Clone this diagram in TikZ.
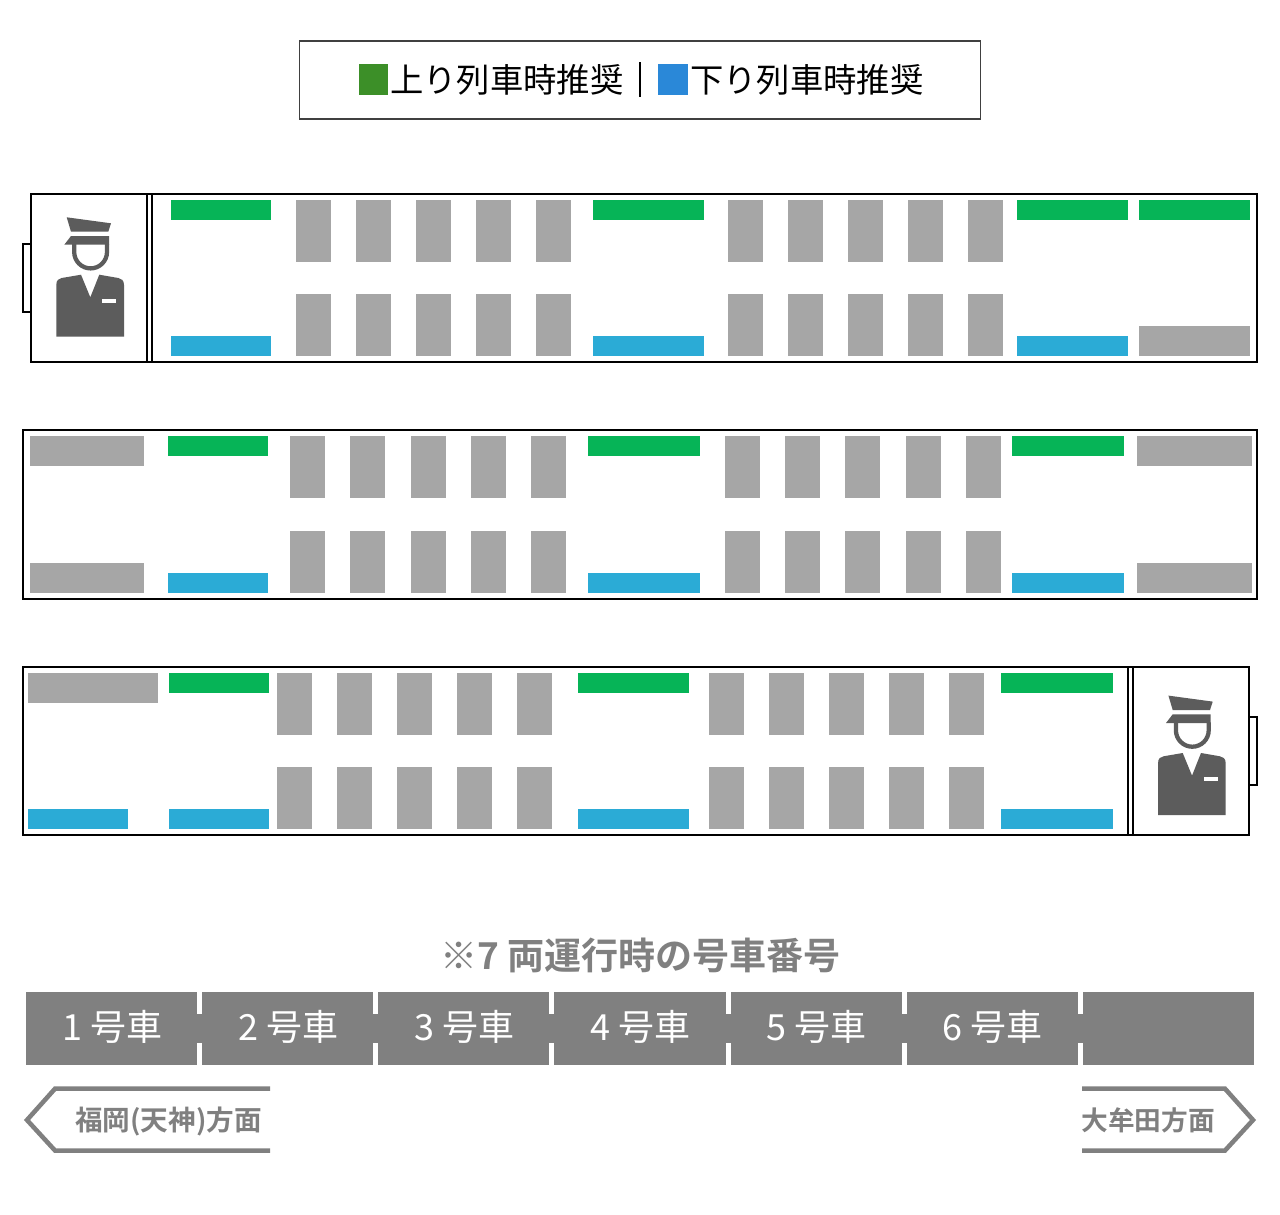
\documentclass[tikz,border=0pt]{standalone}
\usepackage{fontspec}
\setmainfont{Noto Sans CJK JP}
\newfontfamily\jpbold{Noto Sans CJK JP Bold}
\newcommand{\fs}[1]{\fontsize{#1}{#1}\selectfont}
\definecolor{seatgreen}{HTML}{06B457}
\definecolor{seatblue}{HTML}{2BABD6}
\definecolor{seatgray}{HTML}{A6A6A6}
\definecolor{bandgray}{HTML}{808080}
\definecolor{mangray}{HTML}{5C5C5C}
\definecolor{keygreen}{HTML}{3C8F28}
\definecolor{keyblue}{HTML}{2A88D8}
\newcommand{\grn}[3]{\fill[seatgreen] (#1,#3) rectangle (#2,#3+20);}
\newcommand{\blu}[3]{\fill[seatblue] (#1,#3) rectangle (#2,#3+20);}
\newcommand{\gry}[4]{\fill[seatgray] (#1,#3) rectangle (#2,#4);}
\newcommand{\seatpair}[3]{\foreach \sx in {#1} {\fill[seatgray] (\sx,#2) rectangle (\sx+35,#2+62); \fill[seatgray] (\sx,#3) rectangle (\sx+35,#3+62);}}
\newcommand{\conductor}{%
  \fill[mangray] (66.7,217.3) -- (111,223.3) -- (108.3,231.7) -- (71,231.7) -- cycle;
  \fill[mangray] (64.3,244.7) -- (71,236) -- (109,236) -- (109,244.7) -- cycle;
  \draw[mangray,line width=3.2pt] (74.2,244) -- (74.2,252) .. controls (74.2,261) and (81.5,268.4) .. (90.6,268.4) .. controls (99.7,268.4) and (107,261) .. (107,252) -- (107,244);
  \fill[mangray] (56.3,336.7) -- (124,336.7) -- (124,285) .. controls (124,280) and (121,278.5) .. (118.3,278) -- (99.3,274.7) -- (90.3,297.3) -- (81,274.7) -- (61.7,278) .. controls (59,278.5) and (56.3,280) .. (56.3,285) -- cycle;
  \fill[white] (102,299) rectangle (116.3,303);
}
\tikzset{frame/.style={draw=black,line width=1.5pt},
  legendtxt/.style={text=black,inner sep=0pt,font=\fs{25}},
  band/.style={text=white,inner sep=0pt,font=\fs{27}},
  direction/.style={draw=bandgray,line width=3.4pt,miter limit=10},
  dirtxt/.style={text=bandgray,inner sep=0pt}}
\begin{document}
\begin{tikzpicture}[x=0.75pt,y=-0.75pt]
\useasboundingbox (0,0) rectangle (1280,1214);
\fill[white] (0,0) rectangle (1280,1214);
% legend
\draw[black!75,line width=0.9pt] (299.5,41) rectangle (980.5,119);
\fill[keygreen] (359,64) rectangle (388,95);
\fill[keyblue] (658,64) rectangle (688,95);
\node[legendtxt,anchor=west] (up) at (390,80) {上り列車時推奨};
\node[legendtxt,anchor=west] (down) at (690,80) {下り列車時推奨};
\draw[black,line width=1pt] (640,62) -- (640,97);
% car 1
\draw[frame] (31,244) -- (23,244) -- (23,312) -- (31,312);
\draw[frame] (31,194) rectangle (1257,362);
\draw[frame] (147,194) -- (147,362) (152,194) -- (152,362);
\begin{scope}\conductor\end{scope}
\grn{171}{271}{200}\blu{171}{271}{336}
\seatpair{296,356,416,476,536}{200}{294}
\grn{593}{704}{200}\blu{593}{704}{336}
\seatpair{728,788,848,908,968}{200}{294}
\grn{1017}{1128}{200}\blu{1017}{1128}{336}
\grn{1139}{1250}{200}\gry{1139}{1250}{326}{356}
% car 2
\draw[frame] (23,430) rectangle (1257,599);
\gry{30}{144}{436}{466}\gry{30}{144}{563}{593}
\grn{168}{268}{436}\blu{168}{268}{573}
\seatpair{290,350,411,471,531}{436}{531}
\grn{588}{700}{436}\blu{588}{700}{573}
\seatpair{725,785,845,906,966}{436}{531}
\grn{1012}{1124}{436}\blu{1012}{1124}{573}
\gry{1137}{1252}{436}{466}\gry{1137}{1252}{563}{593}
% car 3
\draw[frame] (1249,717) -- (1257,717) -- (1257,785) -- (1249,785);
\draw[frame] (23,667) rectangle (1249,835);
\draw[frame] (1128,667) -- (1128,835) (1133,667) -- (1133,835);
\begin{scope}[shift={(1101.7,478.3)}]\conductor\end{scope}
\gry{28}{158}{673}{703}\blu{28}{128}{809}
\grn{169}{269}{673}\blu{169}{269}{809}
\seatpair{277,337,397,457,517}{673}{767}
\grn{578}{689}{673}\blu{578}{689}{809}
\seatpair{709,769,829,889,949}{673}{767}
\grn{1001}{1113}{673}\blu{1001}{1113}{809}
% title
\node[text=bandgray,inner sep=0pt,font=\jpbold\fs{27.8}] (title) at (640.5,955) {※7 両運行時の号車番号};
% band
\fill[bandgray] (26,992) rectangle (1254,1065);
\foreach \nx in {197,373.3,549.3,725.5,902,1077.8} {
  \fill[white] (\nx,992) rectangle (\nx+5,1013.5);
  \fill[white] (\nx,1043) rectangle (\nx+5,1065);
}
\node[band] (c1) at (112.5,1026.5) {1 号車};
\node[band] (c2) at (288.5,1026.5) {2 号車};
\node[band] (c3) at (464.5,1026.5) {3 号車};
\node[band] (c4) at (640.5,1026.5) {4 号車};
\node[band] (c5) at (816.5,1026.5) {5 号車};
\node[band] (c6) at (992.5,1026.5) {6 号車};
% direction arrows
\draw[direction] (270,1088.7) -- (55,1088.7) -- (27,1120) -- (55,1150.5) -- (270,1150.5);
\draw[direction] (1082,1088.7) -- (1225,1088.7) -- (1253,1120) -- (1225,1150.5) -- (1082,1150.5);
\node[dirtxt,font=\jpbold\fs{20.7}] (west) at (168.5,1121.5) {福岡(天神)方面};
\node[dirtxt,font=\jpbold\fs{20}] (east) at (1148,1120) {大牟田方面};
\end{tikzpicture}
\end{document}
